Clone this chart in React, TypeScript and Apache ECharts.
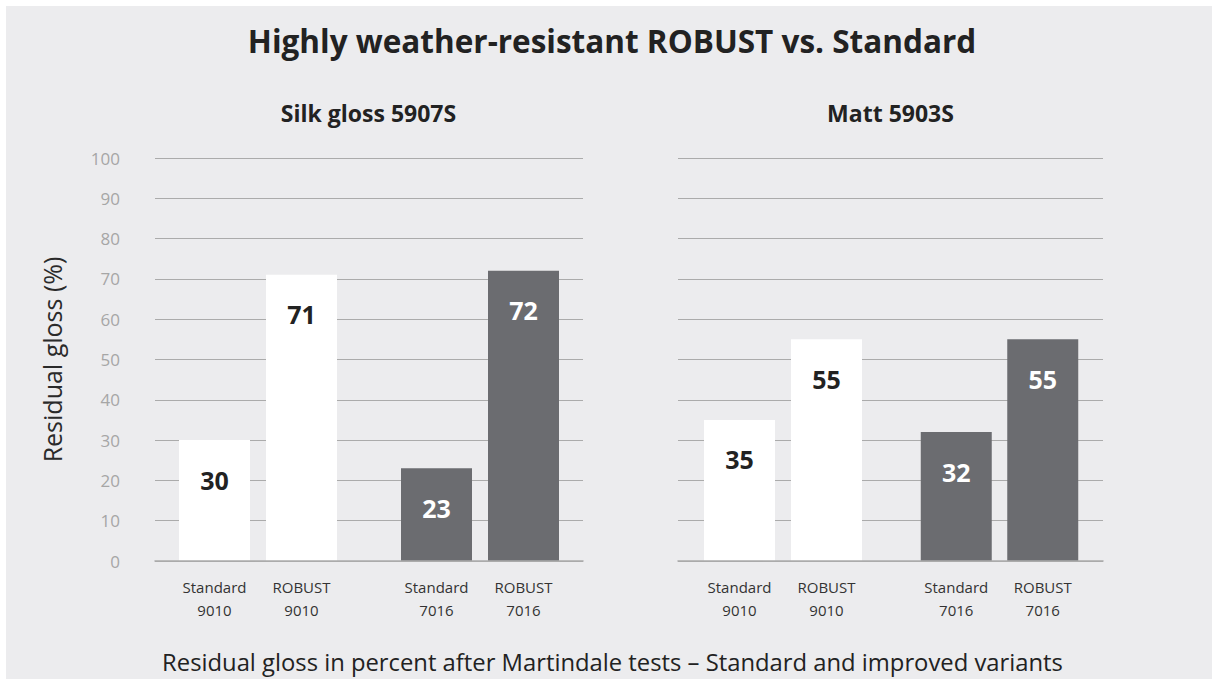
import React, { useEffect, useRef } from "react";
import * as echarts from "echarts";

const title = "Highly weather-resistant ROBUST vs. Standard";
const panelTitles = ["Silk gloss 5907S", "Matt 5903S"];
const caption = "Residual gloss in percent after Martindale tests – Standard and improved variants";
const yAxisName = "Residual gloss (%)";

const cats9010 = ["Standard\n9010", "ROBUST\n9010"];
const cats7016 = ["Standard\n7016", "ROBUST\n7016"];

const silk9010 = [30, 71];
const silk7016 = [23, 72];
const matt9010 = [35, 55];
const matt7016 = [32, 55];

const FONT = "Open Sans";
const WHITE = "#ffffff";
const GRAY = "#6b6c70";
const GRID_LINE = "#ababab";

// chart offset (div placed at 6,6 on page)
const OFF = 6;
const TOP = 158 - OFF;
const HEIGHT = 403;

export default function App() {
  const ref = useRef<HTMLDivElement>(null);
  useEffect(() => {
    document.body.style.margin = "0";
    const chart = echarts.init(ref.current!, null, { renderer: "svg" });

    const bgGrids = [
      { left: 155 - OFF, top: TOP, width: 428, height: HEIGHT },
      { left: 678 - OFF, top: TOP, width: 425, height: HEIGHT },
    ];
    const barGrids = [
      { left: 171 - OFF, top: TOP, width: 174, height: HEIGHT },
      { left: 393 - OFF, top: TOP, width: 174, height: HEIGHT },
      { left: 696 - OFF, top: TOP, width: 174, height: HEIGHT },
      { left: 913 - OFF, top: TOP, width: 173, height: HEIGHT },
    ];
    const grids = [...bgGrids, ...barGrids];

    const xAxis: any[] = [];
    const yAxis: any[] = [];
    bgGrids.forEach((_, i) => {
      xAxis.push({
        type: "category",
        gridIndex: i,
        data: [""],
        axisTick: { show: false },
        axisLabel: { show: false },
        axisLine: { show: true, lineStyle: { color: GRID_LINE, width: 1.5 } },
        z: 5,
      });
      yAxis.push({
        type: "value",
        gridIndex: i,
        min: 0,
        max: 100,
        interval: 10,
        axisLine: { show: false },
        axisTick: { show: false },
        splitLine: { show: true, lineStyle: { color: GRID_LINE, width: 1 } },
        axisLabel: {
          show: i === 0,
          color: "#a6a6a6",
          fontFamily: FONT,
          fontSize: 17,
          margin: 35,
        },
        name: i === 0 ? yAxisName : "",
        nameLocation: "middle",
        nameRotate: 90,
        nameGap: 91,
        nameTextStyle: { color: "#2a2a2a", fontFamily: FONT, fontSize: 25 },
      });
    });
    const barCats = [cats9010, cats7016, cats9010, cats7016];
    barCats.forEach((cats, j) => {
      const gi = j + 2;
      xAxis.push({
        type: "category",
        gridIndex: gi,
        data: cats,
        axisTick: { show: false },
        axisLine: { show: false },
        axisLabel: {
          color: "#333333",
          fontFamily: FONT,
          fontSize: 15,
          lineHeight: 23,
          margin: 14,
          interval: 0,
        },
      });
      yAxis.push({
        type: "value",
        gridIndex: gi,
        min: 0,
        max: 100,
        show: false,
        splitLine: { show: false },
      });
    });

    const seriesData = [silk9010, silk7016, matt9010, matt7016];
    const series = seriesData.map((vals, j) => {
      const dark = j % 2 === 1;
      return {
        type: "bar",
        xAxisIndex: j + 2,
        yAxisIndex: j + 2,
        data: vals,
        barWidth: 71,
        itemStyle: { color: dark ? GRAY : WHITE },
        label: {
          show: true,
          position: "insideTop",
          distance: 27,
          color: dark ? "#ffffff" : "#222222",
          fontFamily: FONT,
          fontWeight: "bold",
          fontSize: 25,
        },
        z: 3,
      };
    });

    chart.setOption({
      animation: false,
      backgroundColor: "#ececee",
      grid: grids,
      xAxis,
      yAxis,
      series,
      graphic: [
        {
          type: "text",
          x: 612 - OFF,
          y: 40 - OFF,
          style: {
            text: title,
            fontFamily: FONT,
            fontWeight: "bold",
            fontSize: 31.5,
            fill: "#222222",
            align: "center",
            verticalAlign: "middle",
          },
        },
        {
          type: "text",
          x: 368.5 - OFF,
          y: 113 - OFF,
          style: {
            text: panelTitles[0],
            fontFamily: FONT,
            fontWeight: "bold",
            fontSize: 23,
            fill: "#222222",
            align: "center",
            verticalAlign: "middle",
          },
        },
        {
          type: "text",
          x: 890.5 - OFF,
          y: 113 - OFF,
          style: {
            text: panelTitles[1],
            fontFamily: FONT,
            fontWeight: "bold",
            fontSize: 23,
            fill: "#222222",
            align: "center",
            verticalAlign: "middle",
          },
        },
        {
          type: "text",
          x: 612.5 - OFF,
          y: 662 - OFF,
          style: {
            text: caption,
            fontFamily: FONT,
            fontSize: 23.8,
            fill: "#222222",
            align: "center",
            verticalAlign: "middle",
          },
        },
      ],
    });
    return () => chart.dispose();
  }, []);
  return (
    <div
      ref={ref}
      style={{ position: "absolute", left: OFF, top: OFF, width: 1212 - OFF, height: 679 - OFF }}
    />
  );
}
